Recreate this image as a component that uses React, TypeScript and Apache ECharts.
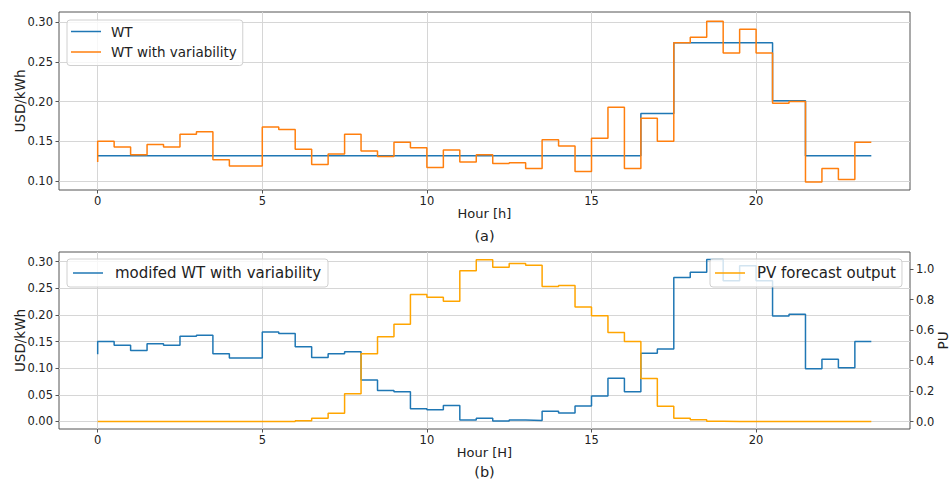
import React, { useEffect, useRef } from 'react';
import * as echarts from 'echarts';

const hours = [
  0, 0.5, 1, 1.5, 2, 2.5, 3, 3.5, 4, 4.5, 5, 5.5, 6, 6.5, 7, 7.5, 8, 8.5, 9, 9.5, 10, 10.5, 11, 11.5,
  12, 12.5, 13, 13.5, 14, 14.5, 15, 15.5, 16, 16.5, 17, 17.5, 18, 18.5, 19, 19.5, 20, 20.5, 21, 21.5,
  22, 22.5, 23, 23.5,
];

const wt = [
  0.132, 0.132, 0.132, 0.132, 0.132, 0.132, 0.132, 0.132, 0.132, 0.132, 0.132, 0.132, 0.132, 0.132, 0.132, 0.132,
  0.132, 0.132, 0.132, 0.132, 0.132, 0.132, 0.132, 0.132, 0.132, 0.132, 0.132, 0.132, 0.132, 0.132, 0.132, 0.132,
  0.132, 0.132, 0.185, 0.185, 0.274, 0.274, 0.274, 0.274, 0.274, 0.274, 0.201, 0.201, 0.132, 0.132, 0.132, 0.132,
];

const wtVar = [
  0.124, 0.150, 0.143, 0.133, 0.146, 0.143, 0.159, 0.162, 0.127, 0.119, 0.119, 0.168, 0.165, 0.140, 0.121, 0.134,
  0.159, 0.138, 0.131, 0.149, 0.142, 0.117, 0.139, 0.124, 0.133, 0.122, 0.123, 0.116, 0.152, 0.144, 0.112, 0.154,
  0.193, 0.116, 0.179, 0.150, 0.274, 0.281, 0.301, 0.261, 0.291, 0.261, 0.198, 0.200, 0.099, 0.116, 0.102, 0.149,
];

const modWt = [
  0.126, 0.150, 0.143, 0.133, 0.146, 0.143, 0.160, 0.162, 0.127, 0.119, 0.119, 0.168, 0.165, 0.140, 0.120, 0.127,
  0.131, 0.078, 0.058, 0.056, 0.024, 0.022, 0.030, 0.003, 0.006, 0.001, 0.003, 0.002, 0.019, 0.016, 0.029, 0.048,
  0.081, 0.056, 0.128, 0.136, 0.270, 0.280, 0.304, 0.264, 0.292, 0.264, 0.198, 0.201, 0.099, 0.117, 0.101, 0.150,
];

const pv = [
  0, 0, 0, 0, 0, 0, 0, 0, 0, 0, 0, 0, 0, 0.005, 0.022, 0.055,
  0.182, 0.444, 0.556, 0.639, 0.833, 0.816, 0.790, 0.989, 1.061, 1.013, 1.037, 1.026, 0.886, 0.892, 0.751, 0.694,
  0.584, 0.525, 0.282, 0.101, 0.022, 0.011, 0.002, 0, 0, 0, 0, 0, 0, 0, 0, 0,
];

const xTicks = [0, 5, 10, 15, 20];
const topYTicks = [0.1, 0.15, 0.2, 0.25, 0.3];
const botYTicks = [0, 0.05, 0.1, 0.15, 0.2, 0.25, 0.3];
const puTicks = [0, 0.2, 0.4, 0.6, 0.8, 1.0];

const FONT = 'DejaVu Sans';
const FRAME = '#555555';
const GRIDC = '#d6d6d6';
const TXT = '#222222';
const BLUE = '#1f77b4';
const ORANGE = '#ff7f0e';
const PVC = '#ffa500';

const pairs = (ys: number[]) => hours.map((h, i) => [h, ys[i]]);

function makeX(gridIndex: number, name: string) {
  return {
    type: 'value',
    gridIndex,
    min: -1.175,
    max: 24.675,
    name,
    nameLocation: 'middle',
    nameGap: 17,
    nameMoveOverlap: false,
    nameTextStyle: { fontSize: 13, color: TXT, fontFamily: FONT },
    axisLine: { show: false, onZero: false },
    axisTick: { show: true, length: 3.5, customValues: xTicks, lineStyle: { color: FRAME, width: 1 } },
    axisLabel: { customValues: xTicks, fontSize: 11.5, color: TXT, fontFamily: FONT, margin: 5 },
    splitLine: { show: true, lineStyle: { color: GRIDC, width: 1 } },
  };
}

function makeY(gridIndex: number, min: number, max: number, ticks: number[], digits: number, name: string, position: string, split: boolean, gap: number) {
  return {
    type: 'value',
    gridIndex,
    position,
    min,
    max,
    name,
    nameLocation: 'middle',
    nameGap: gap,
    nameMoveOverlap: false,
    nameTextStyle: { fontSize: 13.5, color: TXT, fontFamily: FONT },
    axisLine: { show: false, onZero: false },
    axisTick: { show: true, length: 3.5, customValues: ticks, lineStyle: { color: FRAME, width: 1 } },
    axisLabel: {
      customValues: ticks,
      fontSize: 11.5,
      color: TXT,
      fontFamily: FONT,
      margin: 6,
      formatter: (v: number) => v.toFixed(digits),
    },
    splitLine: { show: split, lineStyle: { color: GRIDC, width: 1 } },
  };
}

function lineSeries(name: string, data: number[], color: string, xi: number, yi: number, z: number) {
  return {
    name,
    type: 'line',
    step: 'start',
    xAxisIndex: xi,
    yAxisIndex: yi,
    data: pairs(data),
    showSymbol: false,
    symbol: 'none',
    color,
    z,
    lineStyle: { color, width: 1.5 },
  };
}

const legendBase = {
  orient: 'vertical',
  icon: 'rect',
  itemWidth: 30,
  itemHeight: 1.5,
  backgroundColor: 'rgba(255,255,255,0.8)',
  borderColor: '#d0d0d0',
  borderWidth: 1,
  borderRadius: 3,
};

const gridBase = {
  left: 59,
  right: 41,
  show: true,
  borderColor: FRAME,
  borderWidth: 1,
  backgroundColor: 'transparent',
  containLabel: false,
  outerBoundsMode: 'none',
};

export default function App() {
  const ref = useRef<HTMLDivElement>(null);
  useEffect(() => {
    if (!ref.current) return;
    const chart = echarts.init(ref.current, undefined, { renderer: 'svg' });
    chart.setOption({
      animation: false,
      backgroundColor: '#ffffff',
      grid: [
        { ...gridBase, top: 12, height: 178 },
        { ...gridBase, top: 252, height: 177 },
      ],
      xAxis: [makeX(0, 'Hour [h]'), makeX(1, 'Hour [H]')],
      yAxis: [
        makeY(0, 0.0888, 0.3127, topYTicks, 2, 'USD/kWh', 'left', true, 32),
        makeY(1, -0.0141, 0.318, botYTicks, 2, 'USD/kWh', 'left', true, 32),
        makeY(1, -0.049, 1.1124, puTicks, 1, 'PU', 'right', false, 26),
      ],
      legend: [
        {
          ...legendBase,
          data: ['WT', 'WT with variability'],
          left: 67,
          top: 20,
          padding: [3, 6, 5, 4],
          itemGap: 3.5,
          textStyle: { fontSize: 13.5, color: TXT, fontFamily: FONT, lineHeight: 17, padding: [0, 0, 0, 5] },
        },
        {
          ...legendBase,
          data: ['modifed WT with variability'],
          left: 67,
          top: 259,
          padding: [5, 7, 5, 6],
          textStyle: { fontSize: 15, color: TXT, fontFamily: FONT, lineHeight: 18, padding: [0, 0, 0, 7] },
        },
        {
          ...legendBase,
          data: ['PV forecast output'],
          left: 710,
          top: 259,
          padding: [5, 6, 5, 5],
          textStyle: { fontSize: 15, color: TXT, fontFamily: FONT, lineHeight: 18, padding: [0, 0, 0, 7] },
        },
      ],
      series: [
        lineSeries('WT', wt, BLUE, 0, 0, 2),
        lineSeries('WT with variability', wtVar, ORANGE, 0, 0, 3),
        lineSeries('modifed WT with variability', modWt, BLUE, 1, 1, 2),
        lineSeries('PV forecast output', pv, PVC, 1, 2, 3),
      ],
      graphic: [
        { type: 'text', x: 484.5, y: 236, style: { text: '(a)', textAlign: 'center', textVerticalAlign: 'middle', fontSize: 14.5, fontFamily: FONT, fill: TXT } },
        { type: 'text', x: 484.5, y: 472, style: { text: '(b)', textAlign: 'center', textVerticalAlign: 'middle', fontSize: 14.5, fontFamily: FONT, fill: TXT } },
      ],
    });
    return () => chart.dispose();
  }, []);
  return <div ref={ref} style={{ position: 'fixed', left: 0, top: 0, width: 951, height: 479 }} />;
}
